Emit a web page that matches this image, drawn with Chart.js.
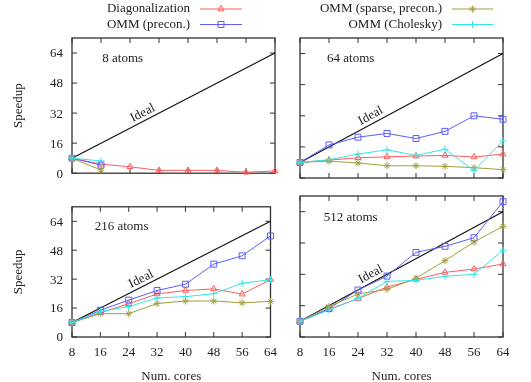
<!DOCTYPE html>
<html>
<head>
<meta charset="utf-8">
<script src="https://cdn.jsdelivr.net/npm/chart.js@4.4.0/dist/chart.umd.min.js"></script>
<style>
  html, body { margin: 0; padding: 0; background: #fff; overflow: hidden; }
  body { width: 531px; height: 382px; position: relative; }
  .panel { position: absolute; }
</style>
</head>
<body>
<div class="panel" style="left:0;top:0;width:285px;height:190px"><canvas id="c8"></canvas></div>
<div class="panel" style="left:285px;top:0;width:246px;height:190px"><canvas id="c64"></canvas></div>
<div class="panel" style="left:0;top:190px;width:285px;height:196px"><canvas id="c216"></canvas></div>
<div class="panel" style="left:285px;top:190px;width:246px;height:196px"><canvas id="c512"></canvas></div>
<script>
// x values and axis ticks
const cores = [8, 16, 24, 32, 40, 48, 56, 64];
const yTicks = [0, 16, 32, 48, 64];
const ideal = [8, 64];

// speedup, one array per panel and method
const diag8 = [8, 4.8, 3.4, 1.5, 1.5, 1.5, 0.5, 1.2];
const precon8 = [8, 4.3];
const sparse8 = [8, 1.7];
const chol8 = [8, 6.5];

const diag64 = [8, 9.2, 10.4, 10.9, 11.3, 11.6, 10.8, 12.3];
const precon64 = [8, 17, 21, 22.9, 20.3, 24, 32, 30.2];
const sparse64 = [8, 8.7, 7.7, 6.3, 6.3, 6.0, 5.3, 4.3];
const chol64 = [8, 9.4, 12.3, 14.5, 11.6, 14.8, 3.8, 19.1];

const diag216 = [8, 13.4, 18.4, 23.8, 25.7, 26.6, 23.7, 31.7];
const precon216 = [8, 14.8, 20.4, 25.7, 29.2, 40.3, 44.9, 55.9];
const sparse216 = [8, 12.9, 12.9, 18.5, 19.9, 19.9, 18.9, 19.7];
const chol216 = [8, 14.1, 16.8, 21.6, 22.3, 24, 29.7, 31.7];

const diag512 = [8, 14.1, 19.6, 25.5, 29.4, 33, 34.7, 37.3];
const precon512 = [8, 14.5, 24, 31.1, 43.2, 46.3, 50.7, 69.1];
const sparse512 = [8, 15.5, 22, 24.3, 30, 39, 48.5, 56.5];
const chol512 = [8, 13.8, 19.7, 28.4, 28.9, 31, 32, 44.3];

const seriesNames = ['Diagonalization', 'OMM (precon.)', 'OMM (sparse, precon.)', 'OMM (Cholesky)'];
const seriesColors = ['#ff5c5c', '#5c5cff', '#a0a040', '#33e6e6'];
const seriesMarkers = ['triangle', 'rect', 'star', 'cross'];
const seriesRadius = [3.5, 4.2, 3.5, 3.5];

const FONT = { family: '"Liberation Serif", "Times New Roman", serif', size: 13 };
const TEXT = '#222';

// frame with inward ticks on all four sides (gnuplot style)
const framePlugin = {
    id: 'frame',
    beforeDatasetsDraw(chart) {
        const { ctx, chartArea: a, scales } = chart;
        const x = scales.x, y = scales.y;
        ctx.save();
        ctx.strokeStyle = '#333';
        ctx.lineWidth = 1.3;
        ctx.strokeRect(a.left, a.top, a.right - a.left, a.bottom - a.top);
        ctx.lineWidth = 1;
        ctx.beginPath();
        cores.forEach(v => {
            const px = x.getPixelForValue(v);
            ctx.moveTo(px, a.bottom); ctx.lineTo(px, a.bottom - 5);
            ctx.moveTo(px, a.top); ctx.lineTo(px, a.top + 5);
        });
        yTicks.forEach(v => {
            const py = y.getPixelForValue(v);
            ctx.moveTo(a.left, py); ctx.lineTo(a.left + 5, py);
            ctx.moveTo(a.right, py); ctx.lineTo(a.right - 5, py);
        });
        ctx.stroke();
        ctx.restore();
    },
    afterDatasetsDraw(chart, args, opts) {
        const { ctx, chartArea: a, scales } = chart;
        const x = scales.x, y = scales.y;
        ctx.save();
        ctx.fillStyle = TEXT;
        ctx.font = FONT.size + 'px ' + FONT.family;
        ctx.textAlign = 'center';
        ctx.textBaseline = 'middle';
        // panel title
        ctx.fillText(opts.title, a.left + (a.right - a.left) * 0.25, a.top + (a.bottom - a.top) * 0.15);
        // "Ideal" along the ideal line
        const x0 = x.getPixelForValue(ideal[0]), y0 = y.getPixelForValue(ideal[0]);
        const x1 = x.getPixelForValue(ideal[1]), y1 = y.getPixelForValue(ideal[1]);
        ctx.translate(x.getPixelForValue(27.5), y.getPixelForValue(32));
        ctx.rotate(Math.atan2(y1 - y0, x1 - x0));
        ctx.fillText('Ideal', 0, 0);
        ctx.restore();
    }
};

// legend column: text on the left, line sample with marker on the right
const legendPlugin = {
    id: 'sideLegend',
    afterDraw(chart, args, opts) {
        if (!opts.items) return;
        const ctx = chart.ctx;
        ctx.save();
        ctx.font = FONT.size + 'px ' + FONT.family;
        ctx.textAlign = 'right';
        ctx.textBaseline = 'middle';
        opts.items.forEach((i, k) => {
            const yy = opts.rows[k];
            ctx.fillStyle = TEXT;
            ctx.fillText(seriesNames[i], opts.textRight, yy);
            ctx.strokeStyle = seriesColors[i];
            ctx.lineWidth = 1;
            ctx.beginPath();
            ctx.moveTo(opts.x1, yy); ctx.lineTo(opts.x2, yy);
            ctx.stroke();
            if (Chart.helpers && Chart.helpers.drawPoint) {
                ctx.fillStyle = 'rgba(0,0,0,0)';
                Chart.helpers.drawPoint(ctx, {
                    pointStyle: seriesMarkers[i], radius: seriesRadius[i], rotation: 0, borderWidth: 1
                }, (opts.x1 + opts.x2) / 2, yy);
            }
        });
        ctx.restore();
    }
};

function makeChart(id, values, title, left, bottom, legend) {
    const datasets = [{
        data: ideal.map(v => ({ x: v, y: v })),
        borderColor: '#111',
        borderWidth: 1.2,
        pointRadius: 0,
        clip: false,
        order: 10
    }];
    values.forEach((vals, i) => {
        datasets.push({
            label: seriesNames[i],
            data: vals.map((v, k) => ({ x: cores[k], y: v })),
            borderColor: seriesColors[i],
            borderWidth: 1,
            pointStyle: seriesMarkers[i],
            pointRadius: seriesRadius[i],
            pointBorderColor: seriesColors[i],
            pointBackgroundColor: 'rgba(0,0,0,0)',
            pointBorderWidth: 1,
            lineTension: 0,
            clip: false,
            order: 4 - i
        });
    });

    const padding = {
        left: left ? 0 : 15,
        right: left ? 10 : 28,
        top: bottom ? 6 : 38,
        bottom: bottom ? 0 : 12
    };

    return new Chart(document.getElementById(id), {
        type: 'line',
        data: { datasets: datasets },
        options: {
            responsive: true,
            maintainAspectRatio: false,
            animation: false,
            events: [],
            layout: { padding: padding },
            scales: {
                x: {
                    type: 'linear',
                    min: 8,
                    max: 64,
                    display: bottom,
                    afterBuildTicks: s => { s.ticks = cores.map(v => ({ value: v })); },
                    afterFit: bottom ? s => { s.height = 49; } : undefined,
                    grid: { display: false, drawTicks: false },
                    border: { display: false },
                    ticks: { padding: 8, font: FONT, color: TEXT, maxRotation: 0, autoSkip: false },
                    title: { display: true, text: 'Num. cores', font: FONT, color: TEXT, padding: { top: 0, bottom: 2 } }
                },
                y: {
                    type: 'linear',
                    min: 0,
                    max: 72,
                    display: left,
                    afterBuildTicks: s => { s.ticks = yTicks.map(v => ({ value: v })); },
                    afterFit: left ? s => { s.width = 72; } : undefined,
                    grid: { display: false, drawTicks: false },
                    border: { display: false },
                    ticks: { padding: 9, font: FONT, color: TEXT, labelOffset: 1 },
                    title: { display: true, text: 'Speedup', font: FONT, color: TEXT, padding: { top: 11, bottom: 0 } }
                }
            },
            plugins: {
                legend: { display: false },
                tooltip: { enabled: false },
                frame: { title: title },
                sideLegend: legend || {}
            }
        },
        plugins: [framePlugin, legendPlugin]
    });
}

document.addEventListener('DOMContentLoaded', function () {
    makeChart('c8', [diag8, precon8, sparse8, chol8], '8 atoms', true, false,
        { items: [0, 1], textRight: 190, x1: 200, x2: 242, rows: [9, 24.5] });
    makeChart('c64', [diag64, precon64, sparse64, chol64], '64 atoms', false, false,
        { items: [2, 3], textRight: 157, x1: 167, x2: 208, rows: [9, 24.5] });
    makeChart('c216', [diag216, precon216, sparse216, chol216], '216 atoms', true, true);
    makeChart('c512', [diag512, precon512, sparse512, chol512], '512 atoms', false, true);
});
</script>
</body>
</html>
